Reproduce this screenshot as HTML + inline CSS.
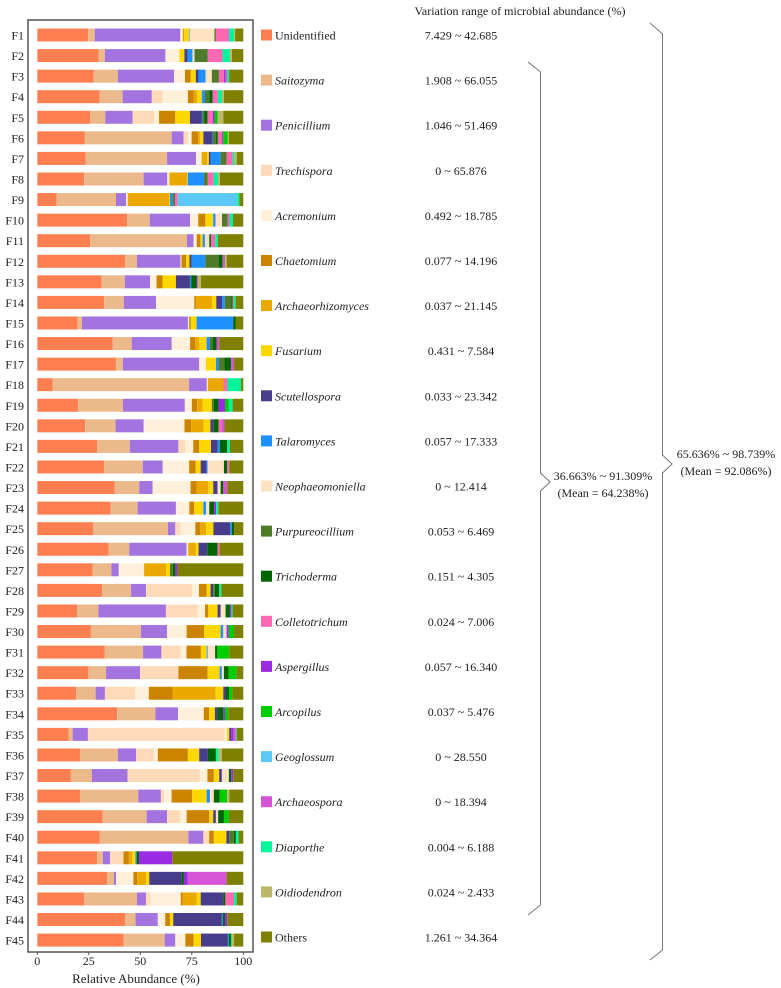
<!DOCTYPE html>
<html><head><meta charset="utf-8">
<style>
html,body{margin:0;padding:0;background:#fff;}
svg{display:block;font-family:"Liberation Serif",serif;}
</style></head>
<body>
<svg id="chart" width="781" height="988" viewBox="0 0 781 988">
<rect x="28" y="20" width="225" height="932" fill="#fff" stroke="#555" stroke-width="1.5"/>
<g id="bars"></g>
<g id="ylabels"></g>
<g id="xaxis"></g>
<text x="136" y="983" font-size="13" text-anchor="middle" fill="#222">Relative Abundance (%)</text>
<g id="legend"></g>
<text x="520" y="15" font-size="12" text-anchor="middle" fill="#222">Variation range of microbial abundance (%)</text>
<g id="ranges"></g>
<path d="M528,62 L540.5,72 L540.5,473 L550,482 L540.5,491 L540.5,905 L528,915" fill="none" stroke="#777" stroke-width="1"/>
<text x="603" y="480" font-size="12" text-anchor="middle" fill="#222">36.663% ~ 91.309%</text>
<text x="603" y="497" font-size="12" text-anchor="middle" fill="#222">(Mean = 64.238%)</text>
<path d="M650,23 L662.5,34 L662.5,455 L672,464 L662.5,473 L662.5,950 L650,960" fill="none" stroke="#777" stroke-width="1"/>
<text x="726" y="458" font-size="12" text-anchor="middle" fill="#222">65.636% ~ 98.739%</text>
<text x="726" y="475" font-size="12" text-anchor="middle" fill="#222">(Mean = 92.086%)</text>
</svg>
<script>
const samples = Array.from({length:45},(_,i)=>'F'+(i+1));
const genera = ["Unidentified","Saitozyma","Penicillium","Trechispora","Acremonium","Chaetomium","Archaeorhizomyces","Fusarium","Scutellospora","Talaromyces","Neophaeomoniella","Purpureocillium","Trichoderma","Colletotrichum","Aspergillus","Arcopilus","Geoglossum","Archaeospora","Diaporthe","Oidiodendron","Others"];
const ranges = ["7.429 ~ 42.685","1.908 ~ 66.055","1.046 ~ 51.469","0 ~ 65.876","0.492 ~ 18.785","0.077 ~ 14.196","0.037 ~ 21.145","0.431 ~ 7.584","0.033 ~ 23.342","0.057 ~ 17.333","0 ~ 12.414","0.053 ~ 6.469","0.151 ~ 4.305","0.024 ~ 7.006","0.057 ~ 16.340","0.037 ~ 5.476","0 ~ 28.550","0 ~ 18.394","0.004 ~ 6.188","0.024 ~ 2.433","1.261 ~ 34.364"];
const xTicks = [0,25,50,75,100];
const abundance = [
[24.8,3.2,41.7,0.5,0.8,0.3,0.3,2.4,0,0.3,12.1,0.3,0.3,6.3,0,0,0,0.3,2.4,0.5,4],
[29.6,3.1,29.3,0,6.8,0,0,2.4,1.6,2.3,1,6.1,0.3,7.1,0,0,0,0,3.6,1,5.5],
[27,11.7,27,0,5.2,2.8,0,2.4,1.3,3.4,3,3.4,0,2.4,0.5,0,0,1,1,0,6.8],
[30.4,11.2,14.2,5.3,12.3,2.9,1.5,2.4,0,1.5,0,2.1,1.6,2.6,0,0,0,0,2,1,9.4],
[25.6,7.4,13.3,10.4,2.4,7.9,0,7.1,5.8,0.3,0,0.8,1.6,2.6,0.8,1.6,0,0,0,2.7,9.7],
[23.1,42.2,5.8,2.1,1.8,3.2,1,1.5,4.4,0.3,0,1.3,1,2.1,0.5,2.3,0,0,0,0.5,7],
[23.5,39.5,14.1,0,2.7,0,2.7,0.8,0.8,4.9,0,2.9,0,2.9,0,0,0,0,1,1,3.2],
[22.7,28.8,11.5,0,1,0,8.6,0.3,0,7.9,0,1.8,0,2.8,0,0,0,0,2.1,1,11.3],
[9.4,28.8,4.9,0,0.8,0,20.2,0.3,0,1.3,0,0.5,0.5,1.5,0,0,28.8,0,1.1,0,1.9],
[42.6,10.8,19.1,0,3.9,3.4,0,3.7,0,1.1,3.1,2.6,0,0.5,0,0,0,0.5,1.6,0,4.9],
[25.7,46.9,3.2,0,1.5,1.8,0,1.1,0,1.1,2.1,0,0.8,2.1,0,0,0,0,1.3,0,12.3],
[42.7,5.8,21.2,0,0.5,2.3,0,1.6,1.1,6.6,0,6.5,1.9,0.5,0.5,0,0,0,0,1,8.1],
[31.2,11.3,12.3,0,3.1,2.9,0,6.5,6.8,0.6,0,0,2.6,0,0.5,0,0,0,0,1.6,20.6],
[32.2,9.4,15.5,0,18.4,0.8,7.9,1.9,2.8,1.3,0,3.2,0.5,0.5,0,0,0,0,1,0,3.7],
[19.6,2.1,51.5,0,0.6,0.8,0,2.8,0,17.8,0,0,1.3,0,0,0,0,0,0,0,3.6],
[36.6,9.2,19.4,0,8.9,2.4,1.9,3.7,0,1.6,0,1.3,1.9,0,0,0,0,1.3,0,0,11.7],
[38.2,3.4,37.1,0,3.2,0,0,4.9,0,1.3,0,2.8,3.2,0,0,0,0,1.5,0,0,4.5],
[7.4,66.2,8.6,0,0.5,0,7.6,0,0,0,0,0,0,1.9,0,0,0,0,6.6,0,1.1],
[19.9,21.7,30.1,0,3.4,2.6,2.6,4.5,0,0,0,1,2.3,0,3.1,1.9,0,0,1.8,0,5.2],
[23.1,14.7,13.6,0,19.7,3.2,6.1,3.2,1.6,0,0,0,2.4,1.4,0,0,0,1.4,0,0,9.1],
[29,15.9,23.6,3.2,4,2.9,0,5.7,3.2,1.1,0,0,3.6,0,0,0,0,0,1.3,0,6.5],
[32.4,18.8,9.7,0,12.8,3.2,0,2.4,2.9,0.5,7.9,0,1.6,1,0,0,0,0,0,0,6.8],
[37.5,12,6.5,0,18.4,2.9,5.7,2.4,2.1,0,1.5,0,1.3,0,0,0,0,1.9,0,0,7.8],
[35.6,13.1,18.6,0,6.5,2.4,0,4.4,0,1.3,1.6,0,2.3,0,1,0,0,0,1.1,0,12.1],
[27.2,36.2,3.6,2.6,7.1,2.3,2.9,3.6,8.1,0.8,0,0,1.1,0,0,0,0,0,0,0,4.5],
[34.6,10,27.8,0,0.8,0,3.7,1.3,4.2,0,0,0,5,1,0,0,0,0,0,0,11.5],
[26.9,9.1,3.6,0,12.3,0,10.7,1.9,0,0,0,1.3,1.3,0,1,0,0,0,0,0,32],
[31.4,14.1,7.3,22.3,3.4,3.7,0,1.9,1.3,0,0,0.8,2.1,0,0,0,0,0,1,0,10.7],
[19.3,10.4,32.8,15.4,3.6,1.6,0,4.5,1.5,0,2.4,0,2.1,0,0.7,0,0,0,0.6,0,5.2],
[26,24.3,12.6,0,9.5,8.6,0,7.9,0,1.3,1.6,0,0,0,1,2.6,0,0,0,0,4.5],
[32.8,18.6,8.9,9.4,2.8,7,0,2.8,0,0.5,3.6,0,1.1,0,0,5.8,0,0,0,0,6.8],
[24.8,8.6,16.5,18.6,0,14.2,0,5.8,0,1.1,1,0,2.3,0,0,3.9,0,0,0,0,3.2],
[18.8,9.5,4.5,14.7,6.6,11.5,20.9,3.7,1.3,0,0,0,1.6,0,0,1.5,0,0,0,0,5.3],
[38.8,18.6,11,0,12.5,2.6,0,2.8,1.3,0,0,0,2.8,0,0.8,1.6,0,0,0,0,7.3],
[15.2,1.9,7.4,66.2,1.1,0,0,1.1,1,0,0,0,0,0,1,0,0,1.2,0.4,0,3.2],
[20.7,18.4,8.9,8.6,1.9,14.6,0,5.5,4.2,0,0,0,3.9,0,0,0,0,0,1.3,1.6,10.4],
[16.3,10.2,17.3,35.1,3.7,3.1,0,2.6,1.3,0,3.4,0,1.1,0,1,0,0,0,0,0,4.9],
[20.7,28.3,11,1.6,3.6,10,0,7,0,1.6,1.9,0,2.9,0,0,3.6,0,0,0,1,6.8],
[31.7,21.4,9.9,6.3,3.2,11,0,1.9,1.3,0,1.1,0,2.8,0,0,2.4,0,0,0,0,7],
[30.4,43,7.3,2.8,0,2.3,0,6.1,1.3,0,0,2.3,1,0,0,0,0,0,1.3,0,2.3],
[29,2.8,3.6,6.5,0,2.6,1.6,1.6,0,0.6,0,0,1.1,0,16.2,0,0,0,0,0,34.5],
[33.8,3.4,1,0,8.4,1.9,4.2,1.6,15.7,0,0,0,1.1,0,1.9,0,0,18.8,0,0,8.1],
[22.7,25.7,4.4,2.3,14.6,1,6.8,1.9,11,0,0,0,1,4.2,0,0,0,0,1.3,0,3.2],
[42.7,5,10.8,0,3.6,2.3,0,1.6,23.6,0.5,0,0,1,0,1.1,0,0,0,0,0,7.8],
[42.1,19.9,5.2,0,4.9,4,0,3.6,13.1,0.5,0,0,1,0,0,0,0,0,0.5,1,4.5]
];
const colors = ["#FF7F50","#EBB98A","#A374E0","#FFDAB9","#FFF0DA","#CC8400","#EAA800","#FFD700","#483D8B","#1E90FF","#FFE2C4","#4F7A2A","#006400","#FF69B4","#9B2BE2","#00CD00","#5BC8F8","#D655D6","#00F59A","#BDB76B","#808000"];

const NS="http://www.w3.org/2000/svg";
function mk(tag,attrs,parent){const e=document.createElementNS(NS,tag);for(const k in attrs)e.setAttribute(k,attrs[k]);parent.appendChild(e);return e;}
const x0=37.3, x1=243.3;
function xScale(v){return x0+(x1-x0)*v/100;}
const yTop=35, yStep=20.57, barH=13;
function yScale(i){return yTop+i*yStep;}

const gBars=document.getElementById('bars');
const gY=document.getElementById('ylabels');
samples.forEach((s,i)=>{
  const row=abundance[i];
  const total=row.reduce((a,b)=>a+b,0);
  let cum=0;
  const g=mk('g',{},gBars);
  
  
  row.forEach((v,k)=>{
    if(v<=0)return;
    const a=cum/total*100, b=(cum+v)/total*100;
    cum+=v;
    const r=mk('rect',{x:xScale(a),y:yScale(i)-barH/2,width:Math.max(0.3,xScale(b)-xScale(a)),height:barH,fill:colors[k]},g);
    
    
  });
  const t=mk('text',{x:24,y:yScale(i)+4.5,'font-size':12,'text-anchor':'end',fill:'#222'},gY);
  t.textContent=s;
  
  
});
const gX=document.getElementById('xaxis');
xTicks.forEach(v=>{
  const l=mk('line',{x1:xScale(v),x2:xScale(v),y1:952,y2:955,stroke:'#555'},gX);
  
  
  const t=mk('text',{x:xScale(v),y:965,'font-size':12,'text-anchor':'middle',fill:'#222'},gX);
  t.textContent=v;
  
  
});
const gL=document.getElementById('legend');
const gR=document.getElementById('ranges');
const lTop=35, lStep=45.1;
genera.forEach((name,k)=>{
  const y=lTop+k*lStep;
  const g=mk('g',{},gL);
  
  
  mk('rect',{x:261,y:y-5.5,width:11,height:11,fill:colors[k]},g);
  const t=mk('text',{x:275,y:y+4.5,'font-size':12,fill:'#222','font-style':(k===0||k===20)?'normal':'italic'},g);
  t.textContent=name;
  const r=mk('text',{x:461,y:y+4.5,'font-size':12,'text-anchor':'middle',fill:'#222'},gR);
  r.textContent=ranges[k];
  
  
});
</script>
</body></html>
